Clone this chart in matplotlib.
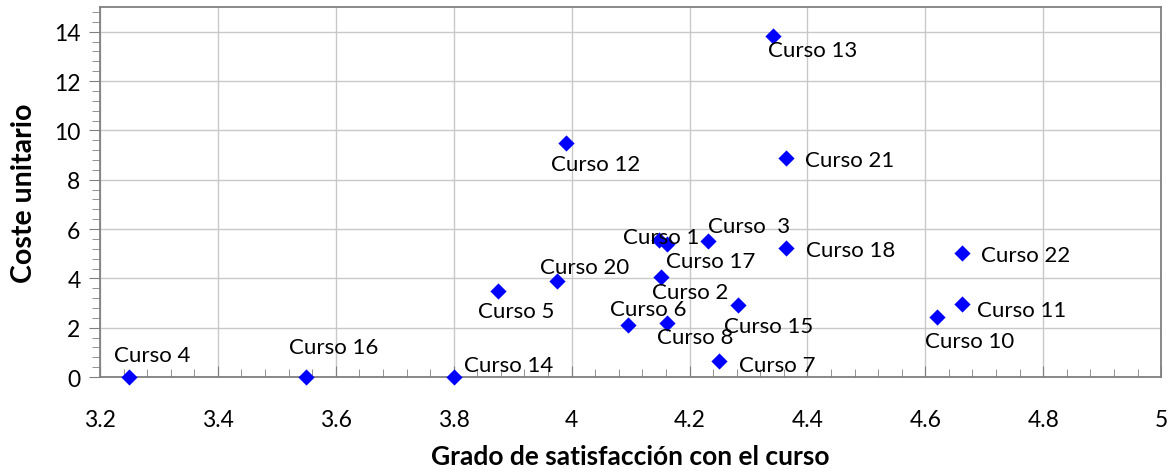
import matplotlib.pyplot as plt
from matplotlib.ticker import MultipleLocator, FuncFormatter

plt.rcParams['font.family'] = ['Lato', 'DejaVu Sans']

cursos = ['Curso 4', 'Curso 16', 'Curso 14', 'Curso 5', 'Curso 20', 'Curso 12',
          'Curso 6', 'Curso 1', 'Curso 17', 'Curso 2', 'Curso 8', 'Curso  3',
          'Curso 15', 'Curso 7', 'Curso 13', 'Curso 21', 'Curso 18', 'Curso 10',
          'Curso 11', 'Curso 22']
satisfaccion = [3.25, 3.55, 3.8, 3.875, 3.975, 3.99,
                4.095, 4.148, 4.161, 4.152, 4.161, 4.232,
                4.282, 4.25, 4.342, 4.364, 4.364, 4.62,
                4.663, 4.663]
coste = [0, 0, 0, 3.48, 3.89, 9.47,
         2.10, 5.54, 5.38, 4.05, 2.19, 5.50,
         2.91, 0.65, 13.84, 8.90, 5.22, 2.43,
         2.95, 5.02]

# label offsets in pixels (dx, dy) from each point
offsets = [(23, 22), (27, 30), (55, 12), (18, -20), (28, 14), (30, -21),
           (21, 16), (2, 3), (44, -17), (29, -15), (29, -14), (41, 15),
           (31, -21), (58, -4), (39, -14), (63, -2), (65, -2), (33, -24),
           (59, -6), (63, -2)]

fig = plt.figure(figsize=(11.74, 4.77), dpi=100)
ax = fig.add_axes([0.0852, 0.2075, 0.9038, 0.7755])

ax.scatter(satisfaccion, coste, marker='D', s=68, color='#0000FF', zorder=3,
           clip_on=False, linewidths=0)

for name, x, y, off in zip(cursos, satisfaccion, coste, offsets):
    ax.annotate(name, (x, y), xytext=off, textcoords='offset pixels',
                ha='center', va='center', fontsize=16, color='black', zorder=4)

ax.set_xlim(3.2, 5)
ax.set_ylim(0, 15)
ax.xaxis.set_major_locator(MultipleLocator(0.2))
ax.xaxis.set_minor_locator(MultipleLocator(0.04))
ax.yaxis.set_major_locator(MultipleLocator(2))
ax.yaxis.set_minor_locator(MultipleLocator(0.4))
ax.xaxis.set_major_formatter(FuncFormatter(lambda v, p: '%g' % round(v, 2)))
ax.yaxis.set_major_formatter(FuncFormatter(lambda v, p: '%g' % round(v, 2)))

ax.grid(True, which='major', color='#C8C8C8', lw=1)
ax.set_axisbelow(True)
for s in ax.spines.values():
    s.set_color('#808080')
    s.set_linewidth(1.3)

ax.tick_params(axis='x', which='both', direction='in', colors='#808080',
               labelcolor='black', labelsize=16.5, pad=23)
ax.tick_params(axis='x', which='major', length=8)
ax.tick_params(axis='x', which='minor', length=6)
ax.tick_params(axis='y', which='both', direction='out', colors='#808080',
               labelcolor='black', labelsize=16.5, pad=6)
ax.tick_params(axis='y', which='major', length=8)
ax.tick_params(axis='y', which='minor', length=6)

ax.set_xlabel('Grado de satisfacción con el curso', fontsize=19, fontweight='bold',
              labelpad=10)
ax.set_ylabel('Coste unitario', fontsize=20.5, fontweight='bold', labelpad=12)

fig.savefig('out.png', dpi=100)
